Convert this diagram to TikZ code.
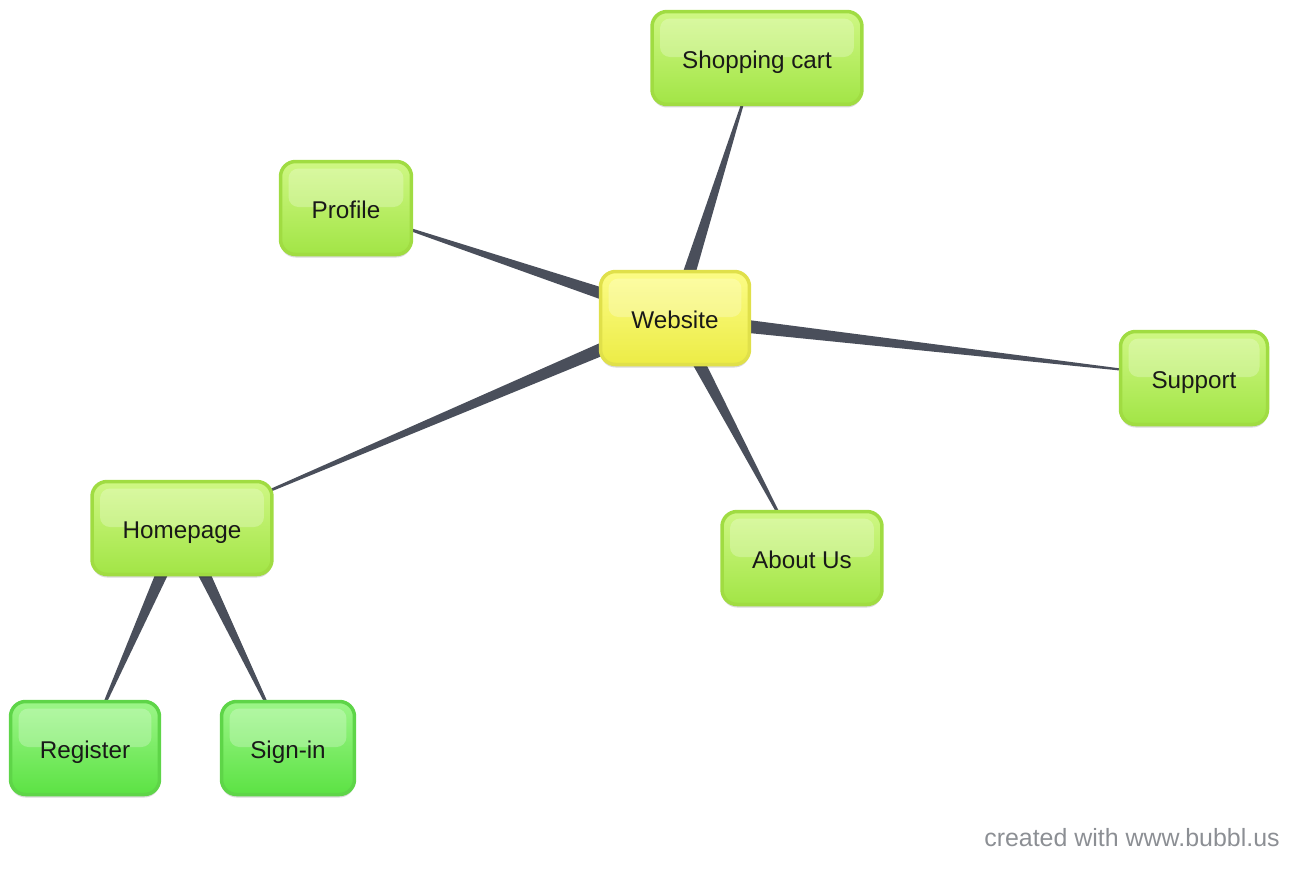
\documentclass[tikz,border=0pt]{standalone}
\usepackage{fontspec}
\setmainfont{Liberation Sans}
\usetikzlibrary{calc,shadows,backgrounds}
\definecolor{limeborder}{HTML}{A0DC42}
\definecolor{limetop}{HTML}{CFF784}
\definecolor{limebottom}{HTML}{A2E546}
\definecolor{greenborder}{HTML}{5ED548}
\definecolor{greentop}{HTML}{9CF688}
\definecolor{greenbottom}{HTML}{5CE244}
\definecolor{yellowborder}{HTML}{E0E04A}
\definecolor{yellowtop}{HTML}{FCFC86}
\definecolor{yellowbottom}{HTML}{ECEC46}
\definecolor{linkgrey}{HTML}{4A4F5B}
\definecolor{creditgrey}{HTML}{8C8F94}
\def\taper(#1)(#2){\fill[linkgrey] ($(#1.center)!0.15cm!90:(#2.center)$) -- ($(#1.center)!0.15cm!-90:(#2.center)$) -- (#2.center) -- cycle;}
\tikzset{
  bubble/.style={rounded corners=0.3cm, line width=0.07cm, inner sep=0pt, minimum height=1.86cm,
    text=black!90, font=\fontsize{13.8}{16}\selectfont, text height=12pt, text depth=0pt,
    drop shadow={shadow xshift=0cm, shadow yshift=-0.06cm, opacity=0.15, fill=black},
    path picture={\fill[white, opacity=0.25, rounded corners=0.2cm]
      ($(path picture bounding box.north west)+(0.16cm,-0.14cm)$) rectangle
      ($(path picture bounding box.east)+(-0.16cm,0.02cm)$);}},
  limebox/.style={bubble, draw=limeborder, top color=limetop, bottom color=limebottom},
  greenbox/.style={bubble, draw=greenborder, top color=greentop, bottom color=greenbottom},
  yellowbox/.style={bubble, draw=yellowborder, top color=yellowtop, bottom color=yellowbottom},
  credit/.style={text=creditgrey, font=\fontsize{14.2}{16}\selectfont, inner sep=0pt}
}
\begin{document}
\begin{tikzpicture}[x=0.02cm, y=-0.02cm]
			%%%%% START %%%%%
			\useasboundingbox (0, 0) rectangle (1298, 870);
			
			\node[yellowbox, minimum width=2.98cm] (website) at (675, 318) {Website};
			
			\node[limebox, minimum width=4.2cm] (shopcart) at (757, 58) {Shopping cart};
			\node[limebox, minimum width=2.62cm] (profile) at (346, 208) {Profile};
			\node[limebox, minimum width=2.94cm] (support) at (1194, 378) {Support};
			\node[limebox, minimum width=3.6cm] (homepage) at (182, 528) {Homepage};
			\node[limebox, minimum width=3.2cm] (aboutus) at (802, 558) {About Us};
			
			\node[greenbox, minimum width=2.98cm] (register) at (85, 748) {Register};
			\node[greenbox, minimum width=2.66cm] (signin) at (288, 748) {Sign-in};
			
			\node[credit, anchor=base east] (credit) at (1280, 846) {created with www.bubbl.us};
			
			\begin{scope}[on background layer]
				\taper(website)(shopcart)
				\taper(website)(profile)
				\taper(website)(support)
				\taper(website)(homepage)
				\taper(website)(aboutus)
				\taper(homepage)(register)
				\taper(homepage)(signin)
			\end{scope}
			%%%%% END %%%%%
\end{tikzpicture}
\end{document}
